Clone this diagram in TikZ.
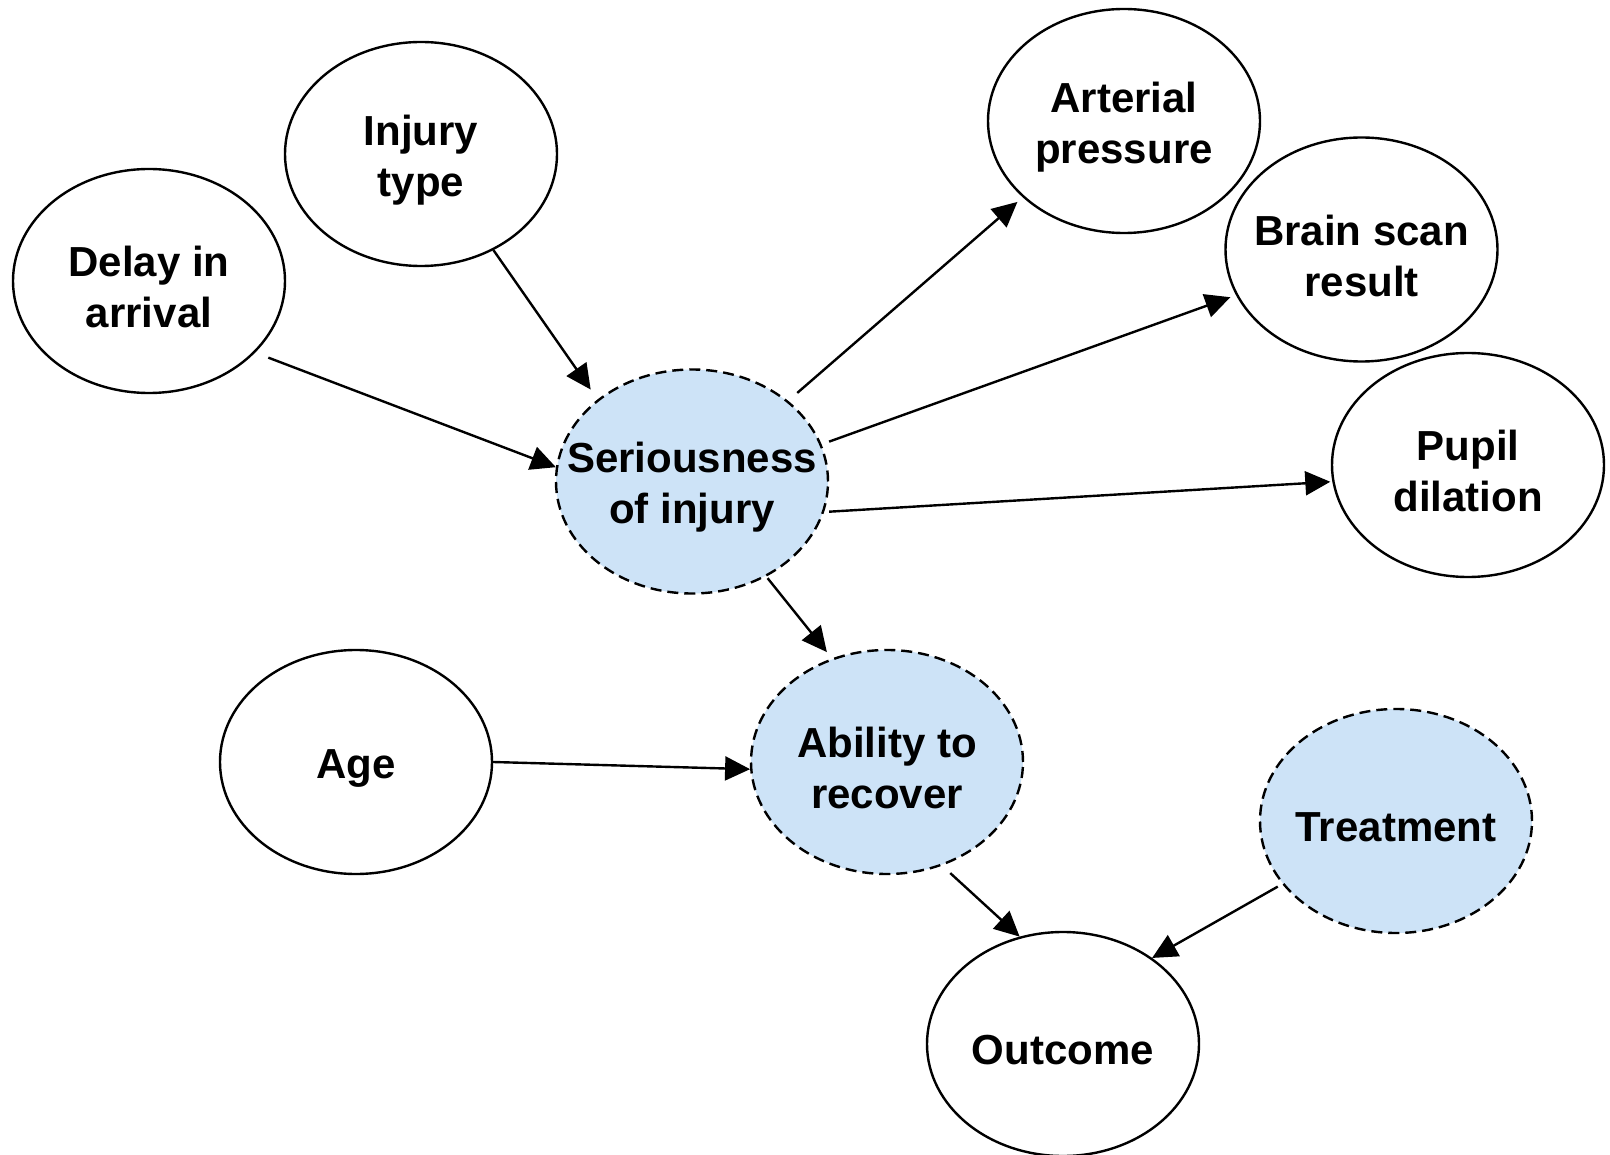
\documentclass[tikz,border=0pt]{standalone}
\usepackage{fontspec}
\setmainfont{Liberation Sans}
\usetikzlibrary{shapes.geometric,arrows.meta}
\definecolor{latentfill}{RGB}{205,227,247}
\begin{document}
\begin{tikzpicture}[x=1pt,y=-1pt,
  var/.style={ellipse, draw=black, line width=2.4pt, minimum width=272pt,
              minimum height=224pt, inner sep=0pt},
  latent/.style={var, fill=latentfill, dash pattern=on 11pt off 6pt},
  lab/.style={font=\fontsize{42}{51}\selectfont\bfseries, align=center, yshift=-6pt},
  edge/.style={line width=2.4pt, -{Triangle[length=25pt,width=24pt]}}]
\useasboundingbox (0,0) rectangle (1610,1155);

% observed variables
\node[var, label={[lab]center:{Delay in\\arrival}}] (delay) at (149,281) {};
\node[var, label={[lab]center:{Injury\\type}}] (inj) at (421,154) {};
\node[var, label={[lab]center:{Arterial\\pressure}}] (art) at (1124,121) {};
\node[var, label={[lab]center:{Brain scan\\result}}] (brain) at (1361.5,249.5) {};
\node[var, label={[lab]center:{Pupil\\dilation}}] (pupil) at (1468,465) {};
\node[var, label={[lab]center:{Age}}] (age) at (356,762) {};
\node[var, label={[lab]center:{Outcome}}] (out) at (1063,1044) {};

% latent variables
\node[latent, label={[lab]center:{Seriousness\\of injury}}] (ser) at (692,481.5) {};
\node[latent, label={[lab]center:{Ability to\\recover}}] (abil) at (887,762) {};
\node[latent, label={[lab]center:{Treatment}}] (treat) at (1396,821) {};

% dependencies
\draw[edge, shorten <=14pt] (delay.-34.6) -- (ser.174);
\draw[edge, shorten >=12pt] (inj.-53) -- (ser.139.2);
\draw[edge, shorten <=12pt, shorten >=7pt] (ser.40.1) -- (art.217.8);
\draw[edge, shorten <=8pt, shorten >=6pt] (ser.16.5) -- (brain.200.5);
\draw[edge, shorten <=5pt, shorten >=2pt] (ser.-13.2) -- (pupil.187.3);
\draw[edge, shorten <=2pt, shorten >=8pt] (ser.-52.5) -- (abil.118.7);
\draw[edge] (age.0) -- (abil.183.4);
\draw[edge, shorten <=11pt] (abil.-62.2) -- (out.112.8);
\draw[edge, shorten <=5pt] (treat.209.4) -- (out.44.7);
\end{tikzpicture}
\end{document}
